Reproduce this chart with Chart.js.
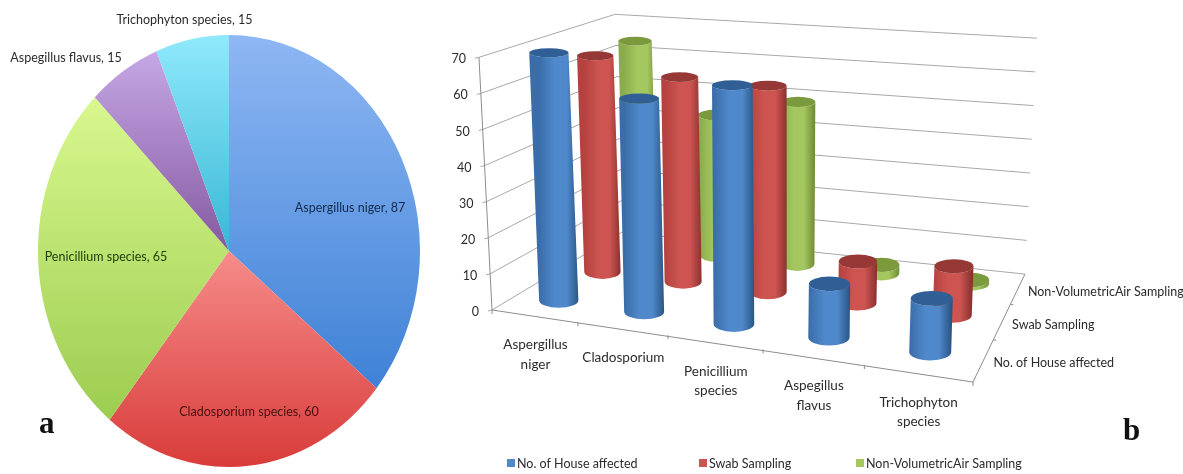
<!DOCTYPE html>
<html lang="en">
<head>
  <meta charset="UTF-8">
  <title>Fungal species charts</title>
  <script src="https://cdn.jsdelivr.net/npm/chart.js"></script>
  <style>
    html, body { margin: 0; background: #fff; overflow: hidden; }
    canvas { position: absolute; top: 0; }
    #pie { left: 0; }
    #cyl { left: 440px; }
    .tag { position: absolute; font: bold 31px "Liberation Serif", serif; color: #111; }
  </style>
</head>
<body>
  <canvas id="pie" width="440" height="474"></canvas>
  <canvas id="cyl" width="743" height="474"></canvas>
  <div class="tag" style="left:39px;top:405px">a</div>
  <div class="tag" style="left:1123px;top:412px">b</div>

  <script>
    const pieCategories = ['Aspergillus niger', 'Cladosporium species', 'Penicillium species', 'Aspegillus flavus', 'Trichophyton species'];
    const pieValues = [87, 60, 65, 15, 15];

    const barCategories = [['Aspergillus', 'niger'], ['Cladosporium'], ['Penicillium', 'species'], ['Aspegillus', 'flavus'], ['Trichophyton', 'species']];
    const seriesNames = ['No. of House affected', 'Swab Sampling', 'Non-VolumetricAir Sampling'];
    const houseValues = [70, 60, 67, 15, 15];
    const swabValues = [64, 60, 60, 12, 14];
    const airValues = [64, 43, 49, 2.5, 1];

    const LABEL_FONT = '"Lato", sans-serif';

    // --- pie: circle squeezed to an ellipse while the arcs are drawn
    const pieCtx = document.getElementById('pie').getContext('2d');
    const PIE_CX = 229, PIE_CY = 251, PIE_STRETCH = 216 / 191;

    function pieGrad(y0, y1, c0, c1) {
      const toChart = y => PIE_CY + (y - PIE_CY) / PIE_STRETCH;
      const g = pieCtx.createLinearGradient(0, toChart(y0), 0, toChart(y1));
      g.addColorStop(0, c0);
      g.addColorStop(1, c1);
      return g;
    }

    const pieLabelSpots = [
      { x: 350, y: 208, color: '#12294d' },
      { x: 249, y: 412, color: '#4a0f0f' },
      { x: 106, y: 257, color: '#233f0a' },
      { x: 66, y: 58, color: '#2b2b2b' },
      { x: 184.5, y: 20, color: '#2b2b2b' }
    ];

    const ellipsePlugin = {
      id: 'ellipse',
      beforeDatasetsDraw(chart) {
        const c = chart.ctx;
        c.save();
        c.translate(PIE_CX, PIE_CY);
        c.scale(1, PIE_STRETCH);
        c.translate(-PIE_CX, -PIE_CY);
      },
      afterDatasetsDraw(chart) {
        const c = chart.ctx;
        c.restore();
        c.save();
        c.font = '12.5px ' + LABEL_FONT;
        c.textAlign = 'center';
        c.textBaseline = 'middle';
        pieCategories.forEach((name, i) => {
          c.fillStyle = pieLabelSpots[i].color;
          c.fillText(name + ', ' + pieValues[i], pieLabelSpots[i].x, pieLabelSpots[i].y);
        });
        c.restore();
      }
    };

    new Chart(pieCtx, {
      type: 'pie',
      data: {
        labels: pieCategories,
        datasets: [{
          data: pieValues,
          borderWidth: 0,
          backgroundColor: [
            pieGrad(35, 387, '#8eb7f3', '#3f82d6'),
            pieGrad(251, 467, '#f68c8a', '#d83c3a'),
            pieGrad(100, 418, '#d8f78e', '#9ccd50'),
            pieGrad(50, 251, '#c6a8e6', '#85599f'),
            pieGrad(35, 251, '#90e9fc', '#38b7d4')
          ]
        }]
      },
      options: {
        responsive: false,
        animation: false,
        layout: { padding: { left: 38, right: 20, top: 60, bottom: 32 } },
        plugins: { legend: { display: false }, tooltip: { enabled: false } }
      },
      plugins: [ellipsePlugin]
    });

    // --- cylinders: bar elements from the scales, re-projected on a perspective floor
    const CYL_LEFT = 440;

    function floorPoint(u, v) {
      const w = 1 - 0.1928 * u + 0.2184 * v;
      return {
        x: (293.4 * u + 265.8 * v + 492) / w + 32 * u * (1 - u) * (1 - 0.5 * v),
        y: (-1.6 * u - 27.3 * v + 310) / w
      };
    }

    function pxPerUnit(u, v) {
      const front = 3.61 + 0.04 * u, back = 3.11 + 0.26 * u;
      return front + (back - front) * v;
    }

    function project(u, v, value) {
      const p = floorPoint(u, v);
      return { x: p.x + (p.x - 770) * value * 0.00067, y: p.y - value * pxPerUnit(u, v) };
    }

    const shades = [
      { left: '#3a6da9', mid: '#5089cb', right: '#2a5686', top: '#2f5f94' },
      { left: '#b5423f', mid: '#cd5451', right: '#8b3230', top: '#953836' },
      { left: '#8bac4c', mid: '#a4c760', right: '#728e38', top: '#7b9a3e' }
    ];

    function line(c, a, b) {
      c.beginPath();
      c.moveTo(a.x, a.y);
      c.lineTo(b.x, b.y);
      c.stroke();
    }

    function drawCylinder(c, u, v, value, shade) {
      const rx = 20.2 + 1.7 * u - 4.4 * v;
      const bottom = project(u, v, 0), top = project(u, v, value);
      const ryBottom = 3.9 + 0.012 * bottom.y, ryTop = 3.9 + 0.012 * top.y;

      const g = c.createLinearGradient(bottom.x - rx, 0, bottom.x + rx, 0);
      g.addColorStop(0, shade.left);
      g.addColorStop(0.4, shade.mid);
      g.addColorStop(0.7, shade.mid);
      g.addColorStop(1, shade.right);
      c.fillStyle = g;
      c.beginPath();
      c.moveTo(top.x - rx, top.y);
      c.lineTo(bottom.x - rx, bottom.y);
      c.ellipse(bottom.x, bottom.y, rx, ryBottom, 0, Math.PI, 0, true);
      c.lineTo(top.x + rx, top.y);
      c.ellipse(top.x, top.y, rx, ryTop, 0, 0, Math.PI, false);
      c.closePath();
      c.fill();

      c.fillStyle = shade.top;
      c.beginPath();
      c.ellipse(top.x, top.y, rx, ryTop, 0, 0, Math.PI * 2);
      c.fill();
    }

    const cylinderPlugin = {
      id: 'cylinders',
      beforeDatasetsDraw(chart) {
        const c = chart.ctx;
        c.save();
        c.translate(-CYL_LEFT, 0);
        c.lineWidth = 1;
        c.strokeStyle = '#a8a8a8';
        chart.scales.y.ticks.forEach(t => {
          const a = project(0, 0, t.value), b = project(0, 1, t.value), d = project(1, 1, t.value);
          line(c, a, b);
          line(c, b, d);
          line(c, a, { x: a.x - 4, y: a.y + 1 });
        });
        c.strokeStyle = '#8c8c8c';
        line(c, project(0, 0, 0), project(0, 0, 70));
        line(c, project(0, 0, 0), project(1, 0, 0));
        line(c, project(1, 0, 0), project(1, 1, 0));
        for (let i = 0; i <= barCategories.length; i++) {
          const p = project(i / barCategories.length, 0, 0);
          line(c, p, { x: p.x, y: p.y + 4 });
        }
        for (let i = 1; i < seriesNames.length; i++) {
          const p = project(1, i / seriesNames.length, 0);
          line(c, p, { x: p.x + 3, y: p.y });
        }
        c.restore();
      },
      // painted instead of the flat bar, keeps the dataset order
      beforeDatasetDraw(chart, args) {
        const c = chart.ctx;
        const v = (args.index + 0.5) / seriesNames.length;
        c.save();
        c.translate(-CYL_LEFT, 0);
        args.meta.data.forEach(el => {
          const u = chart.scales.x.getDecimalForPixel(el.x);
          const value = chart.scales.y.getValueForPixel(el.y);
          drawCylinder(c, u, v, value, shades[args.index]);
        });
        c.restore();
        return false;
      },
      afterDatasetsDraw(chart) {
        const c = chart.ctx;
        c.save();
        c.translate(-CYL_LEFT, 0);
        c.font = '12.5px ' + LABEL_FONT;
        c.fillStyle = '#2b2b2b';
        c.textBaseline = 'middle';

        c.textAlign = 'right';
        chart.scales.y.ticks.forEach(t => {
          const p = project(0, 0, t.value);
          c.fillText(t.label, p.x - 13, p.y + 2);
        });

        c.textAlign = 'left';
        seriesNames.forEach((name, i) => {
          const p = project(1, (i + 0.5) / seriesNames.length, 0);
          c.fillText(name, p.x + 10, p.y + 3);
        });

        const legendX = [507, 699, 856];
        seriesNames.forEach((name, i) => {
          c.fillStyle = shades[i].mid;
          c.fillRect(legendX[i], 459, 8, 8);
          c.fillStyle = '#2b2b2b';
          c.fillText(name, legendX[i] + 10, 463.5);
        });

        c.font = '13.5px ' + LABEL_FONT;
        c.textAlign = 'center';
        barCategories.forEach((lines, i) => {
          const p = project((i + 0.5) / barCategories.length, 0, 0);
          lines.forEach((txt, k) => c.fillText(txt, p.x + 1, p.y + 29 + k * 19.5));
        });
        c.restore();
      }
    };

    new Chart(document.getElementById('cyl'), {
      type: 'bar',
      data: {
        labels: barCategories.map(l => l.join(' ')),
        datasets: [
          { label: seriesNames[0], data: houseValues, backgroundColor: shades[0].mid, grouped: false },
          { label: seriesNames[1], data: swabValues, backgroundColor: shades[1].mid, grouped: false },
          { label: seriesNames[2], data: airValues, backgroundColor: shades[2].mid, grouped: false }
        ]
      },
      options: {
        responsive: false,
        animation: false,
        layout: { padding: { top: 60, bottom: 160, left: 50, right: 160 } },
        plugins: { legend: { display: false }, tooltip: { enabled: false } },
        scales: {
          x: { display: false },
          y: { display: false, min: 0, max: 70, ticks: { stepSize: 10 } }
        }
      },
      plugins: [cylinderPlugin]
    });
  </script>
</body>
</html>
